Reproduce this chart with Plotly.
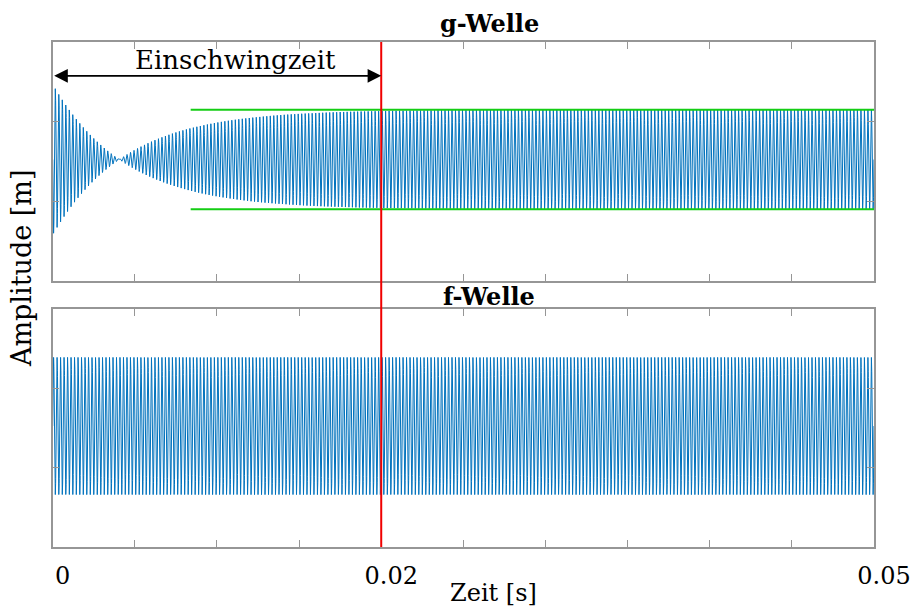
import numpy as np
import plotly.graph_objects as go

# ---- values ----
t_end = 0.05                 # s, end of time axis
freq_hz = 4700.0             # carrier frequency (≈235 cycles in 0.05 s)
dc_offset = 0.05             # small offset of both signals
g_steady_amp = 1.25          # steady-state amplitude of g-Welle
g_transient_amp = 3.14       # initial amplitude of transient part
g_decay_tau = 0.0044         # s, decay time constant of transient
f_amp = 1.73                 # amplitude of f-Welle
settle_time = 0.02           # s, Einschwingzeit (red line)
envelope_start = 0.0084      # s, where green steady-state lines begin
n_samples = 12001

x_tick_vals = [0, 0.005, 0.01, 0.015, 0.02, 0.025, 0.03, 0.035, 0.04, 0.045, 0.05]
x_tick_text = ["0", "", "", "", "0.02", "", "", "", "", "", "0.05"]
y_tick_vals = [-1, 1]
y_range = [-3, 3]

# ---- signals ----
t = np.linspace(0, t_end, n_samples)
carrier = np.sin(2 * np.pi * freq_hz * t)
g_wave = dc_offset + (g_steady_amp - g_transient_amp * np.exp(-t / g_decay_tau)) * carrier
f_wave = dc_offset + f_amp * carrier

BLUE = "#0072BD"
GREEN = "rgb(20,205,20)"
RED = "rgb(240,0,0)"
AXC = "rgb(150,150,150)"
FONT = "DejaVu Serif"

fig = go.Figure()
fig.add_trace(go.Scatter(x=t, y=g_wave, mode="lines", line=dict(color=BLUE, width=1),
                         xaxis="x", yaxis="y", showlegend=False, hoverinfo="skip"))
fig.add_trace(go.Scatter(x=t, y=f_wave, mode="lines", line=dict(color=BLUE, width=1),
                         xaxis="x2", yaxis="y2", showlegend=False, hoverinfo="skip"))
# green steady-state envelope lines
for sgn in (1, -1):
    fig.add_trace(go.Scatter(x=[envelope_start, t_end],
                             y=[dc_offset + sgn * g_steady_amp] * 2,
                             mode="lines", line=dict(color=GREEN, width=2),
                             xaxis="x", yaxis="y", showlegend=False, hoverinfo="skip"))

W, H = 919, 607
x_dom = [52.7 / W, 874 / W]
top_dom = [(H - 281) / H, (H - 42) / H]
bot_dom = [(H - 547) / H, (H - 309) / H]

xcommon = dict(range=[0, t_end], tickvals=x_tick_vals, ticks="inside", ticklen=7,
               tickwidth=1.3, tickcolor=AXC, showline=True, linecolor=AXC, linewidth=1.5,
               mirror="ticks", showgrid=False, zeroline=False, domain=x_dom,
               automargin=False)
ycommon = dict(range=y_range, tickvals=y_tick_vals, ticks="inside", ticklen=7,
               tickwidth=1.3, tickcolor=AXC, showline=True, linecolor=AXC, linewidth=1.5,
               mirror="ticks", showgrid=False, zeroline=False, showticklabels=False,
               automargin=False)

fig.update_layout(
    width=W, height=H, margin=dict(l=0, r=0, t=0, b=0, autoexpand=False),
    paper_bgcolor="white", plot_bgcolor="white",
    font=dict(family=FONT, size=25, color="black"),
    xaxis=dict(**xcommon, anchor="y", showticklabels=False),
    yaxis=dict(**ycommon, domain=top_dom, anchor="x"),
    xaxis2=dict(**xcommon, anchor="y2", ticktext=x_tick_text, showticklabels=True,
                tickfont=dict(family=FONT, size=24, color="black"),
                ticklabelstandoff=6, ticklabelshift=10),
    yaxis2=dict(**ycommon, domain=bot_dom, anchor="x2"),
)

# red vertical settling line spanning both panels
fig.add_shape(type="line", xref="x", yref="paper", x0=settle_time, x1=settle_time,
              y0=bot_dom[0], y1=top_dom[1], line=dict(color=RED, width=2))

# double-headed arrow + label
fig.add_annotation(x=settle_time, y=2.15, ax=0, ay=2.15, xref="x", yref="y",
                   axref="x", ayref="y", text="", showarrow=True, arrowside="end+start",
                   arrowhead=2, arrowsize=1.7, arrowwidth=1.6, arrowcolor="black")
fig.add_annotation(x=0.01115, y=2.55, xref="x", yref="y", text="Einschwingzeit",
                   showarrow=False, xanchor="center", yanchor="middle",
                   font=dict(family=FONT, size=26, color="black"))

# panel titles
fig.add_annotation(x=489 / W, y=(H - 24) / H, xref="paper", yref="paper",
                   text="<b>g-Welle</b>", showarrow=False, xanchor="center", yanchor="middle",
                   font=dict(family=FONT, size=24, color="black"))
fig.add_annotation(x=489 / W, y=(H - 296) / H, xref="paper", yref="paper",
                   text="<b>f-Welle</b>", showarrow=False, xanchor="center", yanchor="middle",
                   font=dict(family=FONT, size=24, color="black"))

# axis titles
fig.add_annotation(x=493 / W, y=(H - 593) / H, xref="paper", yref="paper",
                   text="Zeit [s]", showarrow=False, xanchor="center", yanchor="middle",
                   font=dict(family=FONT, size=24, color="black"))
fig.add_annotation(x=21 / W, y=(H - 269) / H, xref="paper", yref="paper",
                   text="Amplitude [m]", showarrow=False, textangle=-90,
                   xanchor="center", yanchor="middle",
                   font=dict(family=FONT, size=27, color="black"))

fig.write_html("out.html")
